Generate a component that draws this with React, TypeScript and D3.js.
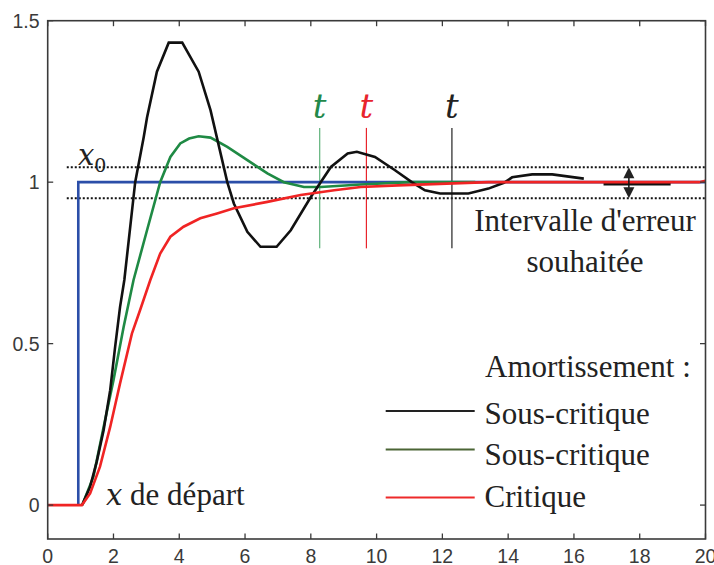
import React from "react";
import * as d3 from "d3";

const xTicks = [0, 2, 4, 6, 8, 10, 12, 14, 16, 18, 20];
const yTicks = [0, 0.5, 1, 1.5];
const yTickLabels = ["0", "0.5", "1", "1.5"];

const consigne: [number, number][] = [[0.93, 0], [0.93, 1], [20, 1]];

const sousCritique1: [number, number][] = [
  [1.05, 0], [1.09, 0.01], [1.29, 0.057], [1.49, 0.134], [1.7, 0.232], [1.9, 0.356], [2.05, 0.49],
  [2.2, 0.614], [2.33, 0.697], [2.66, 1.0], [2.92, 1.14], [3.02, 1.2], [3.32, 1.342], [3.68, 1.432],
  [4.09, 1.432], [4.59, 1.342], [4.95, 1.223], [5.46, 1.0], [5.66, 0.934], [6.07, 0.846], [6.47, 0.8],
  [6.96, 0.8], [7.39, 0.851], [8.0, 0.954], [8.3, 1.0], [8.61, 1.047], [9.12, 1.089], [9.4, 1.094],
  [9.95, 1.078], [10.56, 1.037], [11.07, 1.0], [11.47, 0.975], [11.93, 0.965], [12.79, 0.965],
  [13.4, 0.98], [13.87, 0.998], [14.12, 1.015], [14.73, 1.024], [15.34, 1.024], [16.3, 1.011],
];
const sousCritique1Tail: [number, number][] = [[16.9, 0.994], [18.94, 0.994]];

const sousCritique2: [number, number][] = [
  [1.05, 0], [1.09, 0.01], [1.39, 0.088], [1.7, 0.242], [2.0, 0.387], [2.31, 0.552], [2.61, 0.697],
  [3.02, 0.851], [3.42, 1.0], [3.73, 1.078], [4.03, 1.12], [4.3, 1.135], [4.59, 1.142], [4.95, 1.138],
  [5.46, 1.109], [6.07, 1.068], [6.68, 1.027], [7.18, 1.0], [7.79, 0.985], [8.3, 0.985], [9.52, 0.993],
  [11.0, 1.0], [13.0, 1.0],
];

const critique: [number, number][] = [
  [0, 0], [1.04, 0], [1.29, 0.036], [1.59, 0.119], [1.9, 0.242], [2.2, 0.377], [2.56, 0.531],
  [2.81, 0.604], [3.12, 0.697], [3.42, 0.779], [3.73, 0.831], [4.13, 0.862], [4.64, 0.888],
  [5.15, 0.903], [5.66, 0.919], [6.68, 0.939], [7.69, 0.96], [8.71, 0.975], [9.52, 0.985],
  [10.65, 0.99], [13.4, 1.0], [19.8, 1.0], [20, 1.004],
];

const bandUpper = 1.046;
const bandLower = 0.95;
const bandStart = 0.58;
const settleTimes = [8.27, 9.69, 12.29];
const settleColors = ["#23894a", "#e8242c", "#222222"];
const settleLineColors = ["#5fb27a", "#e8242c", "#222222"];
const settleRange = [0.795, 1.168];
const arrowX = 17.67;

const legendLabels = ["Sous-critique", "Sous-critique", "Critique"];
const legendColors = ["#222222", "#4b6535", "#ee2a2a"];

const W = 714, H = 565;
const L = 47.7, R = 705.5, T = 20.7, B = 539;

export default function App() {
  const x = d3.scaleLinear().domain([0, 20]).range([L, R]);
  const y = d3.scaleLinear().domain([-0.105, 1.5]).range([B, T]);
  const line = d3.line<[number, number]>().x(d => x(d[0])).y(d => y(d[1]));
  const serif = "'Liberation Serif', 'Times New Roman', serif";
  const math = "'DejaVu Serif', serif";
  const sans = "'Liberation Sans', Arial, sans-serif";
  const axisColor = "#3a3a3a";
  const ax = x(arrowX);
  const yu = y(bandUpper), yl = y(bandLower);

  return (
    <svg width={W} height={H} style={{ position: "absolute", left: 0, top: 0, background: "#fff" }}>
      {/* dotted band */}
      <line x1={x(bandStart)} x2={R} y1={yu} y2={yu} stroke="#111" strokeWidth={2} strokeDasharray="2,2" />
      <line x1={x(bandStart)} x2={R} y1={yl} y2={yl} stroke="#111" strokeWidth={2} strokeDasharray="2,2" />

      {/* settle vertical lines */}
      {settleTimes.map((t, i) => (
        <g key={i}>
          <line x1={x(t)} x2={x(t)} y1={y(settleRange[1])} y2={y(settleRange[0])} stroke={settleLineColors[i]} strokeWidth={1.2} />
          <text x={x(t)} y={118} textAnchor="middle" fontFamily={math} fontStyle="italic" fontSize={34} fill={settleColors[i]}>t</text>
        </g>
      ))}

      {/* curves */}
      <path d={line(consigne) || ""} fill="none" stroke="#2b4ea8" strokeWidth={2.6} />
      <path d={line(sousCritique2) || ""} fill="none" stroke="#1f8a44" strokeWidth={2.6} />
      <path d={line(sousCritique1) || ""} fill="none" stroke="#111" strokeWidth={2.6} />
      <path d={line(sousCritique1Tail) || ""} fill="none" stroke="#111" strokeWidth={2.6} />
      <path d={line(critique) || ""} fill="none" stroke="#f02424" strokeWidth={2.6} />

      {/* double arrow */}
      <line x1={ax} x2={ax} y1={yu + 6} y2={yl - 6} stroke="#111" strokeWidth={1.5} />
      <path d={`M${ax},${yu} L${ax - 5.5},${yu + 11} L${ax + 5.5},${yu + 11} Z`} fill="#222" />
      <path d={`M${ax},${yl} L${ax - 5.5},${yl - 11} L${ax + 5.5},${yl - 11} Z`} fill="#222" />

      {/* axes box */}
      <rect x={L} y={T} width={R - L} height={B - T} fill="none" stroke={axisColor} strokeWidth={1.6} />
      {xTicks.map(t => (
        <g key={"xt" + t}>
          <line x1={x(t)} x2={x(t)} y1={B} y2={B - 5.5} stroke={axisColor} strokeWidth={1.3} />
          <line x1={x(t)} x2={x(t)} y1={T} y2={T + 5.5} stroke={axisColor} strokeWidth={1.3} />
          <text x={x(t)} y={562.5} textAnchor="middle" fontFamily={sans} fontSize={19.5} fill="#3a3a3a">{t}</text>
        </g>
      ))}
      {yTicks.map((t, i) => (
        <g key={"yt" + t}>
          <line x1={L} x2={L + 5.5} y1={y(t)} y2={y(t)} stroke={axisColor} strokeWidth={1.3} />
          <line x1={R} x2={R - 5.5} y1={y(t)} y2={y(t)} stroke={axisColor} strokeWidth={1.3} />
          <text x={39.5} y={y(t) + 7} textAnchor="end" fontFamily={sans} fontSize={19.5} fill="#3a3a3a">{yTickLabels[i]}</text>
        </g>
      ))}

      {/* x0 label */}
      <text x={78} y={165} fontFamily={math} fontSize={29} fill="#222">
        <tspan fontStyle="italic">x</tspan>
        <tspan fontSize={19} dy={7}>0</tspan>
      </text>

      {/* error band text */}
      <text x={585} y={231} textAnchor="middle" fontFamily={serif} fontSize={31} fill="#222">Intervalle d'erreur</text>
      <text x={585} y={272} textAnchor="middle" fontFamily={serif} fontSize={31} fill="#222">souhaitée</text>

      {/* start label */}
      <text x={106} y={505} fontFamily={serif} fontSize={31} fill="#222">
        <tspan fontFamily={math} fontStyle="italic" fontSize={29}>x</tspan>
        <tspan> de départ</tspan>
      </text>

      {/* legend */}
      <text x={485} y={377} fontFamily={serif} fontSize={31} fill="#222">Amortissement :</text>
      {legendLabels.map((lab, i) => {
        const ly = [411, 449.5, 497.5][i];
        const ty = [423.5, 465, 507][i];
        return (
          <g key={"lg" + i}>
            <line x1={385.7} x2={474.7} y1={ly} y2={ly} stroke={legendColors[i]} strokeWidth={1.8} />
            <text x={484.5} y={ty} fontFamily={serif} fontSize={31} fill="#222">{lab}</text>
          </g>
        );
      })}
    </svg>
  );
}
